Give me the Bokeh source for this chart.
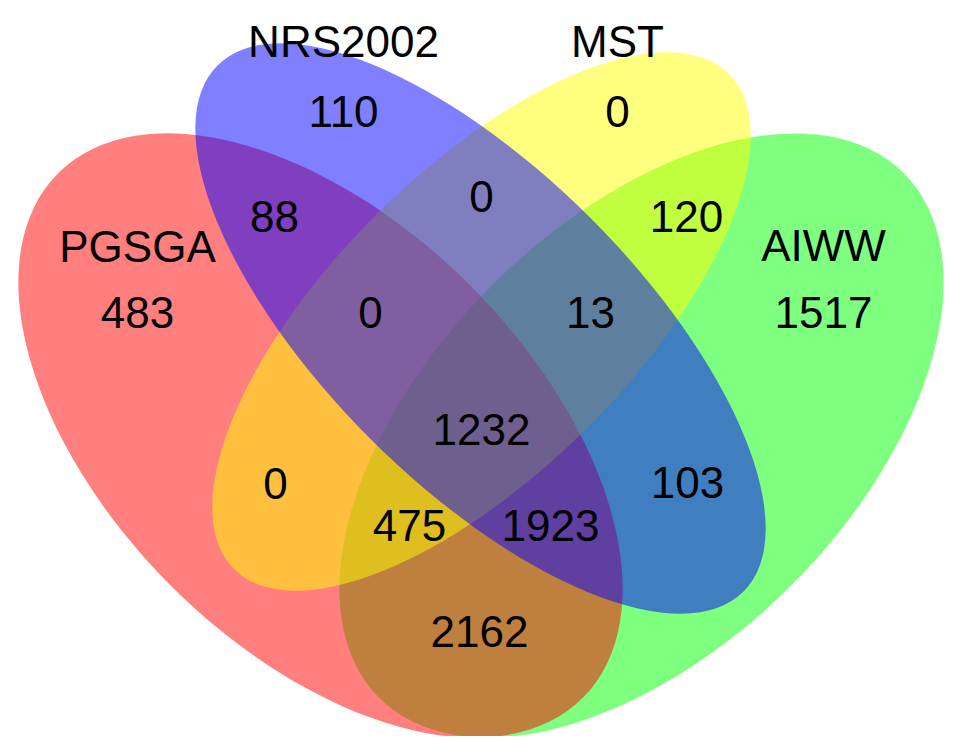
from bokeh.plotting import figure
from bokeh.models import ColumnDataSource, Range1d
from bokeh.core.properties import value
from bokeh.embed import file_html
from bokeh.resources import INLINE
import math

# ---------------- data ----------------
set_codes = ["A", "B", "C", "D"]
set_names = ["PGSGA", "NRS2002", "MST", "AIWW"]
set_colors = ["#FF0000", "#0000FF", "#FFFF00", "#00FF00"]

region_codes = ["A", "B", "C", "D", "AB", "BC", "CD", "ABC", "BCD",
                "ABCD", "AC", "ACD", "ABD", "BD", "AD"]
region_counts = [483, 110, 0, 1517, 88, 0, 120, 0, 13,
                 1232, 0, 475, 1923, 103, 2162]

# ---------------- layout (reference pixel space, y downward) ----------------
H = 752
# ellipse geometry: centre x, centre y, semi-major, semi-minor, tilt
ellipse_geom = {
    "D": (641, 435, 371, 212, +45),
    "A": (320, 435, 371, 212, -45),
    "C": (481, 321, 350, 150, +45),
    "B": (480, 328, 372, 156, -45),
}
draw_order = ["D", "A", "C", "B"]

# vertical centres of the text
name_pos = {"A": (137, 246), "B": (343, 41), "C": (617, 41), "D": (823, 245)}
count_pos = {
    "A": (137, 312), "B": (343, 111), "C": (617, 111), "D": (823, 312),
    "AB": (274, 216), "BC": (481, 196), "CD": (686, 216),
    "ABC": (370, 312), "BCD": (590, 312), "ABCD": (481, 429),
    "AC": (275, 483), "ACD": (409, 525), "ABD": (550, 525),
    "BD": (687, 482), "AD": (479, 631),
}

p = figure(width=944, height=736, output_backend="svg", toolbar_location=None,
           x_range=Range1d(0, 944), y_range=Range1d(H - 736, H), min_border=0)
p.axis.visible = False
p.grid.visible = False
p.outline_line_color = None
p.background_fill_color = "white"
p.border_fill_color = "white"

color_of = dict(zip(set_codes, set_colors))
for code in draw_order:
    cx, cy, a, b, ang = ellipse_geom[code]
    src = ColumnDataSource(dict(x=[cx], y=[H - cy], w=[2 * a], h=[2 * b],
                                ang=[math.radians(ang)]))
    p.ellipse(x="x", y="y", width="w", height="h", angle="ang", source=src,
              fill_color=color_of[code], fill_alpha=0.5, line_color=None)

name_src = ColumnDataSource(dict(
    x=[name_pos[c][0] for c in set_codes],
    y=[H - name_pos[c][1] for c in set_codes],
    t=set_names))
p.text(x="x", y="y", text="t", source=name_src, text_align="center",
       text_baseline="middle", text_font=value("Liberation Sans"),
       text_font_size="44px", text_color="#000000")

cnt_src = ColumnDataSource(dict(
    x=[count_pos[c][0] for c in region_codes],
    y=[H - count_pos[c][1] for c in region_codes],
    t=[str(v) for v in region_counts]))
p.text(x="x", y="y", text="t", source=cnt_src, text_align="center",
       text_baseline="middle", text_font=value("Liberation Sans"),
       text_font_size="44px", text_color="#000000")

open("out.html", "w").write(file_html(p, INLINE))
